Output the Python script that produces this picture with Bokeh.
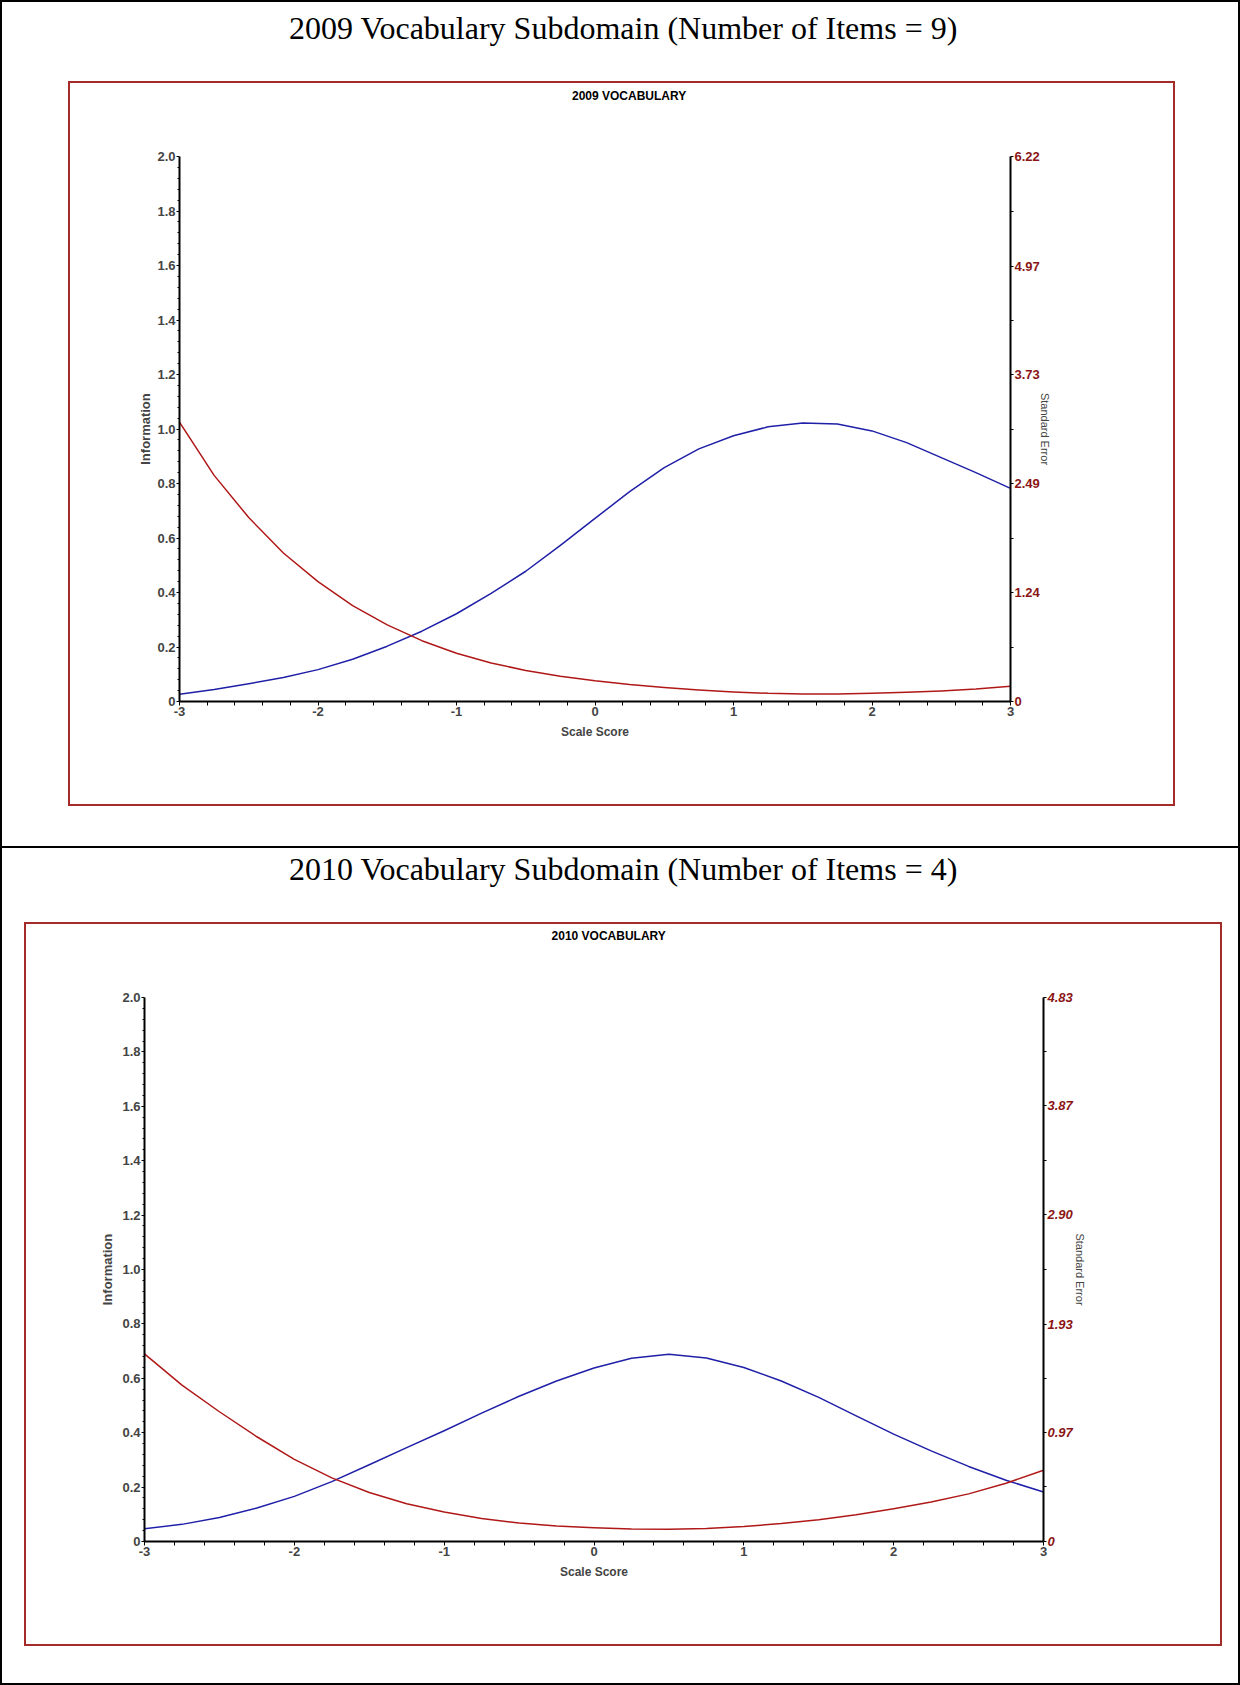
from bokeh.plotting import figure
from bokeh.models import Range1d, LinearAxis, FixedTicker
from bokeh.layouts import column
from bokeh.core.properties import value
from bokeh.embed import file_html
from bokeh.resources import INLINE

# ---------------- data ----------------
scale_score = [-3.0, -2.75, -2.5, -2.25, -2.0, -1.75, -1.5, -1.25, -1.0, -0.75, -0.5, -0.25,
               0.0, 0.25, 0.5, 0.75, 1.0, 1.25, 1.5, 1.75, 2.0, 2.25, 2.5, 2.75, 3.0]

info_2009 = [0.027, 0.044, 0.065, 0.088, 0.117, 0.155, 0.203, 0.258, 0.322, 0.397, 0.478, 0.573,
             0.672, 0.770, 0.858, 0.927, 0.975, 1.008, 1.022, 1.018, 0.993, 0.950, 0.895, 0.840, 0.782]
se_2009 = [3.188, 2.581, 2.099, 1.695, 1.368, 1.095, 0.874, 0.694, 0.550, 0.439, 0.355, 0.289,
           0.236, 0.193, 0.159, 0.131, 0.109, 0.093, 0.087, 0.087, 0.093, 0.106, 0.121, 0.143, 0.174]

info_2010 = [0.047, 0.063, 0.088, 0.123, 0.166, 0.220, 0.282, 0.345, 0.407, 0.472, 0.534, 0.590,
             0.638, 0.674, 0.688, 0.675, 0.640, 0.590, 0.530, 0.462, 0.395, 0.333, 0.276, 0.225, 0.182]
se_2010 = [1.666, 1.389, 1.152, 0.930, 0.729, 0.565, 0.435, 0.336, 0.261, 0.205, 0.164, 0.138,
           0.121, 0.111, 0.109, 0.116, 0.133, 0.159, 0.193, 0.237, 0.290, 0.350, 0.423, 0.517, 0.633]

x_tick_labels = ["-3", "-2", "-1", "0", "1", "2", "3"]
info_tick_labels = ["0", "0.2", "0.4", "0.6", "0.8", "1.0", "1.2", "1.4", "1.6", "1.8", "2.0"]
se_tick_labels_2009 = ["0", "1.24", "2.49", "3.73", "4.97", "6.22"]
se_tick_labels_2010 = ["0", "0.97", "1.93", "2.90", "3.87", "4.83"]

panel_titles = ["2009 Vocabulary Subdomain (Number of Items = 9)",
                "2010 Vocabulary Subdomain (Number of Items = 4)"]
chart_titles = ["2009 VOCABULARY", "2010 VOCABULARY"]

# ---------------- styling ----------------
PAGE_W = 1240
SANS = "Liberation Sans"
SERIF = "Liberation Serif"
BLUE = "#1f1fa8"
RED = "#b01818"
DARK_RED = "#8b1414"
BOX_RED = "#a52a2a"
SUB_H = 30  # height of the strip holding the chart sub-title


def subdivide(major, n):
    out = []
    for a, b in zip(major[:-1], major[1:]):
        for k in range(1, n):
            out.append(a + (b - a) * k / n)
    return out


def text_fig(text, width, height, cx, cy_from_top, font, size, style="normal",
             border_lr=(0, 0)):
    bl, br = border_lr
    # x range expressed in canvas pixels, so the frame (wherever it is aligned) maps 1:1
    t = figure(width=width, height=height, x_range=Range1d(bl, width - br),
               y_range=Range1d(0, height),
               x_axis_type=None, y_axis_type=None, output_backend="svg",
               toolbar_location=None, min_border=0, min_border_left=bl, min_border_right=br,
               min_border_top=0, min_border_bottom=0, outline_line_color=None,
               border_fill_color=None, background_fill_color=None)
    t.grid.visible = False
    t.text(x=[cx], y=[height - cy_from_top], text=[text], text_align="center",
           text_baseline="middle", text_font=value(font), text_font_size=size,
           text_font_style=style, text_color="black")
    return t


def chart_fig(info, se, se_labels, se_italic, width, height, borders,
              ylabel_standoff, ylabel_standoff_r):
    xt = [float(s) for s in x_tick_labels]
    yt = [float(s) for s in info_tick_labels]
    st = [float(s) for s in se_labels]
    ml, mr, mt, mb = borders
    p = figure(width=width, height=height,
               x_range=Range1d(xt[0], xt[-1]), y_range=Range1d(yt[0], yt[-1]),
               output_backend="svg", toolbar_location=None,
               min_border_left=ml, min_border_right=mr, min_border_top=mt, min_border_bottom=mb,
               outline_line_color=None, border_fill_color=None)
    p.grid.visible = False
    p.extra_y_ranges = {"se": Range1d(st[0], st[-1])}

    xa = p.below[0]
    ya = p.left[0]

    xa.ticker = FixedTicker(ticks=xt, minor_ticks=subdivide(xt, 5))
    xa.major_label_overrides = {v: s for v, s in zip(xt, x_tick_labels)}
    xa.axis_label = "Scale Score"
    xa.axis_label_text_font = SANS
    xa.axis_label_text_font_size = "12px"
    xa.axis_label_text_font_style = "bold"
    xa.axis_label_standoff = 6
    xa.major_label_text_font = SANS
    xa.major_label_text_font_size = "13px"
    xa.major_label_text_font_style = "bold"
    xa.major_label_standoff = 1
    xa.axis_line_width = 2
    xa.major_tick_out = 4
    xa.major_tick_in = 0
    xa.minor_tick_out = 4
    xa.minor_tick_in = 0

    ya.ticker = FixedTicker(ticks=yt, minor_ticks=subdivide(yt, 5))
    ya.major_label_overrides = {v: s for v, s in zip(yt, info_tick_labels)}
    ya.axis_label = "Information"
    ya.axis_label_text_font = SANS
    ya.axis_label_text_font_size = "13px"
    ya.axis_label_text_font_style = "bold"
    ya.axis_label_standoff = ylabel_standoff
    ya.major_label_text_font = SANS
    ya.major_label_text_font_size = "13px"
    ya.major_label_text_font_style = "bold"
    ya.major_label_standoff = 1
    ya.axis_line_width = 2
    ya.major_tick_out = 3
    ya.major_tick_in = 0
    ya.minor_tick_out = 2
    ya.minor_tick_in = 0

    ra = LinearAxis(y_range_name="se",
                    ticker=FixedTicker(ticks=st, minor_ticks=subdivide(st, 2)))
    ra.major_label_overrides = {v: s for v, s in zip(st, se_labels)}
    ra.axis_label = "Standard Error"
    ra.axis_label_text_font = SANS
    ra.axis_label_text_font_size = "11px"
    ra.axis_label_text_font_style = "normal"
    ra.axis_label_standoff = ylabel_standoff_r
    ra.major_label_text_font = SANS
    ra.major_label_text_font_size = "13px"
    ra.major_label_text_font_style = "bold italic" if se_italic else "bold"
    ra.major_label_text_color = DARK_RED
    ra.major_label_standoff = 1
    ra.axis_line_width = 2
    ra.major_tick_out = 3
    ra.major_tick_in = 0
    ra.minor_tick_out = 3
    ra.minor_tick_in = 0
    p.add_layout(ra, "right")

    p.line(scale_score, info, line_color=BLUE, line_width=1.5, line_join="round")
    p.line(scale_score, se, line_color=RED, line_width=1.5, line_join="round",
           y_range_name="se")
    return p


box_style = {"outline": "2px solid " + BOX_RED, "outline-offset": "-1px"}
panel1_style = {"box-shadow": "inset 0 0 0 2px black"}
panel2_style = {"box-shadow": "inset 2px 0 0 0 black, inset -2px 0 0 0 black, inset 0 -2px 0 0 black"}

# ---- panel 1 ----
t1 = text_fig(panel_titles[0], PAGE_W, 82, 623, 27, SERIF, "32px")
s1 = text_fig(chart_titles[0], 1105, SUB_H, 559.6, 13, SANS, "12px", "bold",
              border_lr=(110, 164))
c1 = chart_fig(info_2009, se_2009, se_tick_labels_2009, False,
               1105, 723 - SUB_H, (110, 164, 74 - SUB_H, 104), 1, -4)
box1 = column(s1, c1, styles=box_style, margin=(0, 66, 43, 69))
panel1 = column(t1, box1, styles=panel1_style)

# ---- panel 2 ----
t2 = text_fig(panel_titles[1], PAGE_W, 75, 623, 20, SERIF, "32px")
s2 = text_fig(chart_titles[1], 1196, SUB_H, 583.2, 12, SANS, "12px", "bold",
              border_lr=(119, 178))
c2 = chart_fig(info_2010, se_2010, se_tick_labels_2010, True,
               1196, 722 - SUB_H, (119, 178, 74 - SUB_H, 104), 4, -2)
box2 = column(s2, c2, styles=box_style, margin=(0, 19, 40, 25))
panel2 = column(t2, box2, styles=panel2_style)

page = column(panel1, panel2)

open("out.html", "w").write(file_html(page, INLINE))
